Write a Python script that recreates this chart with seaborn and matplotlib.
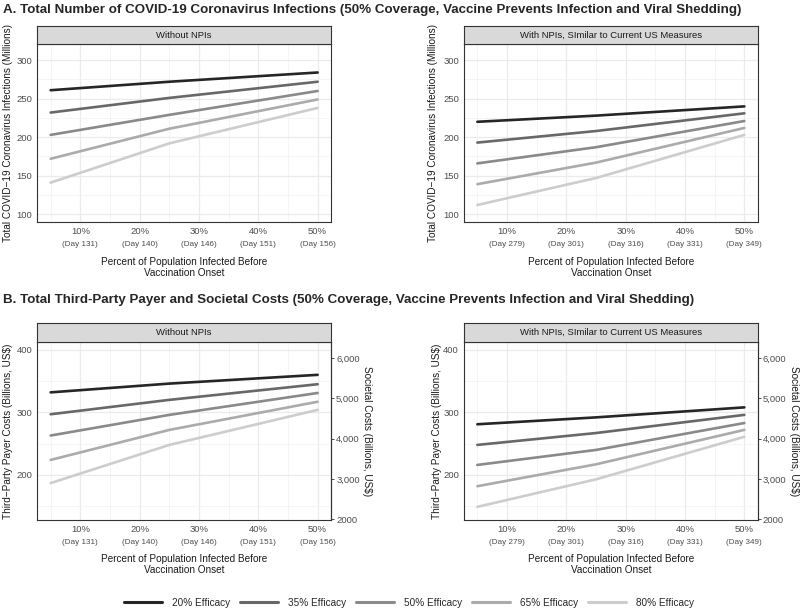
import numpy as np
import pandas as pd
import seaborn as sb
import matplotlib.pyplot as plt
from matplotlib.lines import Line2D

# percent infected before vaccination onset (x positions of the data)
pct_infected = [5, 25, 50]
tick_pct = [10, 20, 30, 40, 50]
tick_pct_labels = ["10%", "20%", "30%", "40%", "50%"]
days_no_npi = ["(Day 131)", "(Day 140)", "(Day 146)", "(Day 151)", "(Day 156)"]
days_npi = ["(Day 279)", "(Day 301)", "(Day 316)", "(Day 331)", "(Day 349)"]

efficacy = ["20% Efficacy", "35% Efficacy", "50% Efficacy", "65% Efficacy", "80% Efficacy"]

# infections (millions)
inf_no_npi = {
    "20% Efficacy": [261, 272, 284],
    "35% Efficacy": [232, 251, 272],
    "50% Efficacy": [203, 229, 260],
    "65% Efficacy": [172, 211, 249],
    "80% Efficacy": [141, 192, 238],
}
inf_npi = {
    "20% Efficacy": [220, 228, 240],
    "35% Efficacy": [193, 208, 231],
    "50% Efficacy": [166, 187, 221],
    "65% Efficacy": [139, 167, 212],
    "80% Efficacy": [112, 147, 203],
}
# third-party payer costs (billions US$)
cost_no_npi = {
    "20% Efficacy": [332, 346, 360],
    "35% Efficacy": [297, 320, 345],
    "50% Efficacy": [263, 296, 331],
    "65% Efficacy": [224, 272, 317],
    "80% Efficacy": [187, 248, 304],
}
cost_npi = {
    "20% Efficacy": [281, 292, 308],
    "35% Efficacy": [248, 267, 296],
    "50% Efficacy": [216, 240, 283],
    "65% Efficacy": [182, 217, 272],
    "80% Efficacy": [149, 193, 261],
}
societal_ratio = 15.5
societal_ticks = [2000, 3000, 4000, 5000, 6000]
societal_labels = ["2000", "3,000", "4,000", "5,000", "6,000"]

grays = ["#262626", "#686868", "#8a8a8a", "#ababab", "#cdcdcd"]
palette = dict(zip(efficacy, grays))

sb.set_style("white")
plt.rcParams['font.family'] = ['Liberation Sans', 'DejaVu Sans']

W, H = 800, 609
fig = plt.figure(figsize=(8, 6.09), dpi=100)


def to_long(d):
    rows = []
    for eff in efficacy:
        for x, v in zip(pct_infected, d[eff]):
            rows.append({"pct": x, "value": v, "Efficacy": eff})
    return pd.DataFrame(rows)


def panel(left, top, right, bottom, strip_top, data, strip, days, ylabel, ylim,
          yticks, yminor, ylab_x, right_axis=False):
    ax = fig.add_axes([left / W, 1 - bottom / H, (right - left) / W, (bottom - top) / H])
    sax = fig.add_axes([left / W, 1 - top / H, (right - left) / W, (top - strip_top) / H])
    sax.set_facecolor("#d9d9d9")
    sax.set_xticks([]); sax.set_yticks([])
    for s in sax.spines.values():
        s.set_color("#333333"); s.set_linewidth(0.8)
    sax.text(0.5, 0.5, strip, ha="center", va="center", fontsize=6.8, color="#1a1a1a")

    sb.lineplot(data=to_long(data), x="pct", y="value", hue="Efficacy", palette=palette,
                linewidth=1.9, legend=False, ax=ax)
    ax.set_xlim(2.75, 52.25)
    ax.set_ylim(*ylim)
    ax.set_xticks(tick_pct)
    ax.set_xticklabels(tick_pct_labels)
    ax.set_xticks([5, 15, 25, 35, 45], minor=True)
    ax.set_yticks(yticks)
    ax.set_yticks(yminor, minor=True)
    ax.grid(True, which="major", color="#ebebeb", linewidth=0.9)
    ax.grid(True, which="minor", color="#f2f2f2", linewidth=0.5)
    ax.set_axisbelow(True)
    for s in ax.spines.values():
        s.set_color("#333333"); s.set_linewidth(0.8)
    ax.tick_params(axis="both", which="major", length=2.2, width=0.6, color="#333333",
                   labelsize=6.8, labelcolor="#4d4d4d", pad=1.5)
    ax.tick_params(axis="both", which="minor", length=0)
    for x, d in zip(tick_pct, days):
        ax.annotate(d, xy=(x, 0), xycoords=("data", "axes fraction"), xytext=(0, -16),
                    textcoords="offset points", ha="center", va="center",
                    fontsize=5.9, color="#4d4d4d")
    ax.set_xlabel("Percent of Population Infected Before\nVaccination Onset", fontsize=7.2,
                  color="#1a1a1a", linespacing=1.15)
    ax.xaxis.set_label_coords(0.5, -0.252)
    ax.xaxis.label.set_va("center")
    ax.set_ylabel(ylabel, fontsize=7.2, color="#1a1a1a")
    ax.yaxis.set_label_coords(ylab_x, 0.5)
    ax.yaxis.label.set_va("center")
    if right_axis:
        sec = ax.secondary_yaxis("right", functions=(lambda v: v * societal_ratio,
                                                     lambda v: v / societal_ratio))
        sec.set_yticks(societal_ticks)
        sec.set_yticklabels(societal_labels)
        sec.tick_params(length=2.2, width=0.6, color="#333333", labelsize=6.8,
                        labelcolor="#4d4d4d", pad=1.5)
        sec.spines["right"].set_color("#333333")
        sec.spines["right"].set_linewidth(0.8)
        ax.text(1.122, 0.5, "Societal Costs (Billions, US$)", transform=ax.transAxes,
                rotation=270, ha="center", va="center", fontsize=7.2, color="#1a1a1a")
    return ax


inf_label = "Total COVID\u221219 Coronavirus Infections (Millions)"
cost_label = "Third\u2212Party Payer Costs (Billions, US$)"

panel(37.3, 44, 331, 222.3, 26, inf_no_npi, "Without NPIs", days_no_npi, inf_label,
      (89.5, 321), [100, 150, 200, 250, 300], [125, 175, 225, 275], -0.10)
panel(464, 44, 757.7, 222.3, 26, inf_npi, "With NPIs, SImilar to Current US Measures",
      days_npi, inf_label, (89.5, 321), [100, 150, 200, 250, 300], [125, 175, 225, 275],
      -0.105)
panel(37.3, 342.3, 331, 520, 323.3, cost_no_npi, "Without NPIs", days_no_npi, cost_label,
      (128, 412), [200, 300, 400], [150, 250, 350], -0.10, right_axis=True)
panel(464, 342.3, 757.7, 520, 323.3, cost_npi, "With NPIs, SImilar to Current US Measures",
      days_npi, cost_label, (128, 412), [200, 300, 400], [150, 250, 350], -0.092,
      right_axis=True)

fig.text(3 / W, 1 - 9.5 / H,
         "A. Total Number of COVID-19 Coronavirus Infections (50% Coverage, Vaccine Prevents Infection and Viral Shedding)",
         fontsize=9.6, fontweight="bold", ha="left", va="center")
fig.text(3 / W, 1 - 300 / H,
         "B. Total Third-Party Payer and Societal Costs (50% Coverage, Vaccine Prevents Infection and Viral Shedding)",
         fontsize=9.6, fontweight="bold", ha="left", va="center")

handles = [Line2D([0], [0], color=palette[e], linewidth=2.2) for e in efficacy]
fig.legend(handles, efficacy, loc="center", bbox_to_anchor=(409 / W, 1 - 602.7 / H),
           ncol=5, frameon=False, fontsize=7.2, handlelength=3.8, handletextpad=1.0,
           columnspacing=1.0, borderpad=0)

fig.savefig("out.png", dpi=100)
